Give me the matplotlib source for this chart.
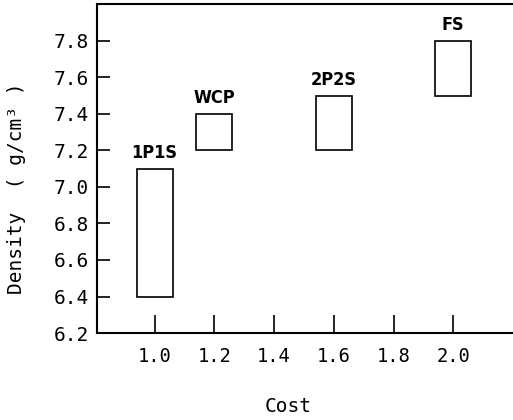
import matplotlib
matplotlib.use('Agg')
import matplotlib.pyplot as plt
import numpy as np

# process cost vs density ranges
names = ['1P1S', 'WCP', '2P2S', 'FS']
cost = [1.0, 1.2, 1.6, 2.0]
dens_low = [6.4, 7.2, 7.2, 7.5]
dens_high = [7.1, 7.4, 7.5, 7.8]

xticks = [1.0, 1.2, 1.4, 1.6, 1.8, 2.0]
yticks = [6.2, 6.4, 6.6, 6.8, 7.0, 7.2, 7.4, 7.6, 7.8]

mono = 'DejaVu Sans Mono'

fig = plt.figure(figsize=(5.13, 4.2), dpi=100)
ax = fig.add_axes([0.189, 0.207, 0.811, 0.783])

heights = np.array(dens_high) - np.array(dens_low)
ax.bar(cost, heights, bottom=dens_low, width=0.12, fill=False,
       edgecolor='black', linewidth=1.2)

for name, x, top in zip(names, cost, dens_high):
    ax.text(x, top + 0.06, name, ha='center', va='baseline',
            fontsize=13, fontweight='bold', fontstretch='condensed',
            family=['Liberation Sans Narrow', 'DejaVu Sans'])

ax.set_xlim(0.807, 2.2)
ax.set_ylim(6.2, 8.0)
ax.set_xticks(xticks)
ax.set_yticks(yticks)
ax.set_xticklabels(['%.1f' % v for v in xticks], family=mono, fontsize=13.5)
ax.set_yticklabels(['%.1f' % v for v in yticks], family=mono, fontsize=14)
ax.tick_params(axis='x', direction='in', length=13, width=1.2, pad=10)
ax.tick_params(axis='y', direction='in', length=9, width=1.2, pad=6)

ax.spines['right'].set_visible(False)
for s in ['left', 'bottom', 'top']:
    ax.spines[s].set_linewidth(1.5)

fig.text(288 / 513, 1 - 407 / 420, 'Cost', ha='center', va='center',
         family=mono, fontsize=14)
fig.text(17 / 513, 1 - 188 / 420, 'Density  ( g/cm\u00b3 )', ha='center',
         va='center', rotation=90, family=mono, fontsize=14)

fig.savefig('out.png', dpi=100)
